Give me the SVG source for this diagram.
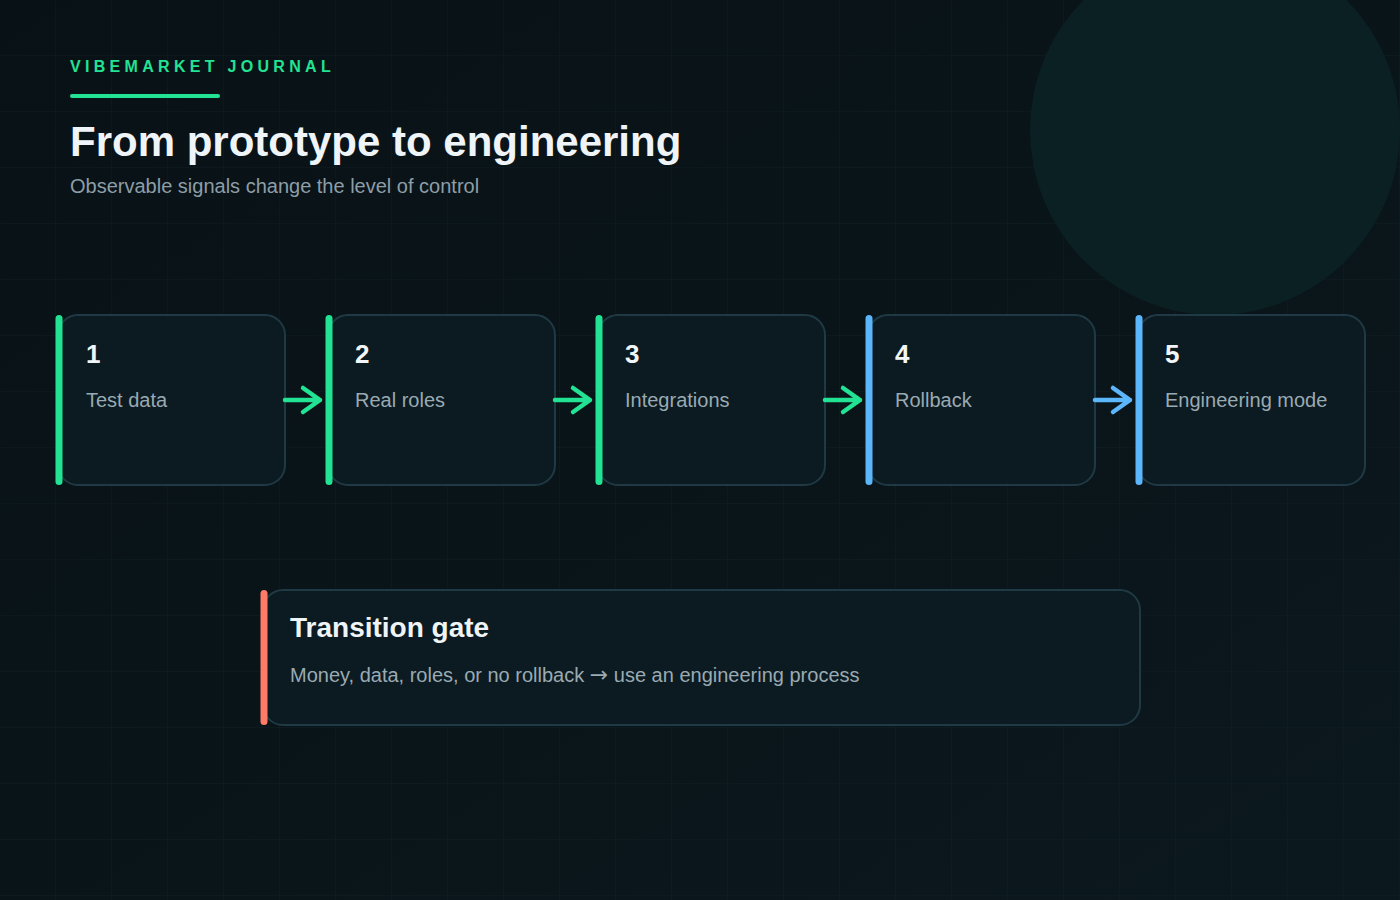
<svg xmlns="http://www.w3.org/2000/svg" width="1400" height="900" viewBox="0 0 1400 900">
  <defs>
    <linearGradient id="bg" x1="0" y1="0" x2="1" y2="1">
      <stop offset="0" stop-color="#081116"/>
      <stop offset="1" stop-color="#0b181d"/>
    </linearGradient>
    <pattern id="grid" width="56" height="56" patternUnits="userSpaceOnUse">
      <path d="M56 0V56M0 56H56" fill="none" stroke="#13242a" stroke-width="1" opacity="0.6"/>
    </pattern>
    <style>
      .card { fill: #0c1a21; stroke: #1f3a44; stroke-width: 2; }
      .num { font-family: "Liberation Sans", Arial, sans-serif; font-weight: 700; font-size: 26px; fill: #f2f6f8; }
      .lbl { font-family: "Liberation Sans", Arial, sans-serif; font-size: 20px; fill: #9aaab2; }
      .green { fill: #22e393; }
      .blue { fill: #5cb6fb; }
      .coral { fill: #ff7b68; }
      .arr { fill: none; stroke-width: 4.5; stroke-linecap: round; stroke-linejoin: round; }
    </style>
  </defs>
  <rect width="1400" height="900" fill="url(#bg)"/>
  <rect width="1400" height="900" fill="url(#grid)"/>
  <circle cx="1215" cy="130" r="185" fill="#0c2226" opacity="0.85"/>

  <g id="header">
    <text x="70" y="72" font-family="Liberation Sans, Arial, sans-serif" font-weight="700" font-size="16" letter-spacing="4.3" fill="#22e393">VIBEMARKET JOURNAL</text>
    <line x1="72" y1="96" x2="218" y2="96" stroke="#22e393" stroke-width="4" stroke-linecap="round"/>
    <text x="70" y="156" font-family="Liberation Sans, Arial, sans-serif" font-weight="700" font-size="42" fill="#eef4f7">From prototype to engineering</text>
    <text x="70" y="193" font-family="Liberation Sans, Arial, sans-serif" font-size="20" fill="#8d9ea7">Observable signals change the level of control</text>
  </g>

  <g id="step1">
    <rect class="card" x="58" y="315" width="227" height="170" rx="20"/>
    <rect class="green" x="55.5" y="315" width="7" height="170" rx="3.5"/>
    <text class="num" x="86" y="363">1</text>
    <text class="lbl" x="86" y="407">Test data</text>
  </g>
  <g id="step2">
    <rect class="card" x="328" y="315" width="227" height="170" rx="20"/>
    <rect class="green" x="325.5" y="315" width="7" height="170" rx="3.5"/>
    <text class="num" x="355" y="363">2</text>
    <text class="lbl" x="355" y="407">Real roles</text>
  </g>
  <g id="step3">
    <rect class="card" x="598" y="315" width="227" height="170" rx="20"/>
    <rect class="green" x="595.5" y="315" width="7" height="170" rx="3.5"/>
    <text class="num" x="625" y="363">3</text>
    <text class="lbl" x="625" y="407">Integrations</text>
  </g>
  <g id="step4">
    <rect class="card" x="868" y="315" width="227" height="170" rx="20"/>
    <rect class="blue" x="865.5" y="315" width="7" height="170" rx="3.5"/>
    <text class="num" x="895" y="363">4</text>
    <text class="lbl" x="895" y="407">Rollback</text>
  </g>
  <g id="step5">
    <rect class="card" x="1138" y="315" width="227" height="170" rx="20"/>
    <rect class="blue" x="1135.5" y="315" width="7" height="170" rx="3.5"/>
    <text class="num" x="1165" y="363">5</text>
    <text class="lbl" x="1165" y="407">Engineering mode</text>
  </g>

  <g id="connectors">
    <path class="arr" stroke="#22e393" d="M285 400H320M303 388L320 400L303 412"/>
    <path class="arr" stroke="#22e393" d="M555 400H590M573 388L590 400L573 412"/>
    <path class="arr" stroke="#22e393" d="M825 400H860M843 388L860 400L843 412"/>
    <path class="arr" stroke="#5cb6fb" d="M1095 400H1130M1113 388L1130 400L1113 412"/>
  </g>

  <g id="gate">
    <rect class="card" x="263" y="590" width="877" height="135" rx="20"/>
    <rect class="coral" x="260.5" y="590" width="7" height="135" rx="3.5"/>
    <text x="290" y="637" font-family="Liberation Sans, Arial, sans-serif" font-weight="700" font-size="28" fill="#eef4f7">Transition gate</text>
    <text class="lbl" x="290" y="682">Money, data, roles, or no rollback <tspan font-family="DejaVu Sans, sans-serif" font-size="22">→</tspan> use an engineering process</text>
  </g>
</svg>
